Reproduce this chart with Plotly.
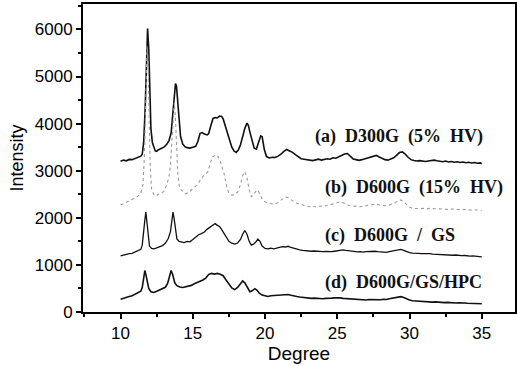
import plotly.graph_objects as go

# ---- data (degree, intensity) ----
deg_a = [10.0,10.2,10.4,10.6,10.8,11.0,11.2,11.4,11.5,11.6,11.7,11.8,11.87,11.95,12.02,12.1,12.2,12.3,12.4,12.5,
         12.6,12.8,13.0,13.2,13.35,13.5,13.6,13.7,13.8,13.87,13.95,14.05,14.15,14.3,14.45,14.6,14.8,15.0,15.2,15.35,
         15.5,15.65,15.8,16.0,16.1,16.25,16.4,16.55,16.7,16.85,17.0,17.1,17.25,17.4,17.55,17.7,17.85,18.0,18.15,18.3,
         18.45,18.6,18.75,18.85,18.95,19.1,19.25,19.4,19.55,19.7,19.8,19.95,20.1,20.3,20.5,20.7,20.9,21.1,21.3,21.5,
         21.7,21.9,22.1,22.3,22.5,22.7,22.9,23.1,23.3,23.5,23.7,23.9,24.1,24.3,24.5,24.7,24.9,25.1,25.3,25.5,
         25.7,25.9,26.1,26.3,26.5,26.7,26.9,27.1,27.3,27.5,27.7,27.9,28.1,28.3,28.5,28.7,28.9,29.1,29.3,29.5,
         29.7,29.9,30.1,30.3,30.5,30.7,30.9,31.1,31.3,31.5,31.7,31.9,32.1,32.3,32.5,32.7,32.9,33.1,33.3,33.5,
         33.7,33.9,34.1,34.3,34.5,34.7,34.9,35.0]
int_a = [3200,3225,3210,3240,3235,3265,3285,3310,3350,3600,4300,5500,6020,5600,4600,3900,3600,3480,3420,3410,
         3440,3470,3500,3560,3640,3800,4100,4500,4850,4800,4450,4000,3730,3570,3510,3490,3480,3500,3520,3620,
         3790,3810,3780,3760,3790,3960,4110,4130,4120,4160,4150,4100,3960,3800,3640,3500,3420,3390,3440,3550,
         3720,3900,4010,3960,3820,3620,3480,3460,3600,3740,3720,3450,3300,3270,3285,3280,3310,3350,3410,3450,
         3420,3390,3340,3300,3255,3245,3230,3225,3215,3230,3245,3225,3240,3255,3245,3275,3265,3295,3320,3355,
         3365,3300,3250,3235,3220,3235,3255,3265,3295,3310,3325,3290,3260,3235,3225,3245,3275,3325,3385,3400,
         3355,3285,3235,3215,3205,3215,3200,3195,3205,3215,3225,3210,3200,3190,3205,3185,3195,3180,3190,3175,
         3185,3170,3180,3165,3175,3160,3165,3150]

deg_b = [10.0,10.2,10.4,10.6,10.8,11.0,11.2,11.4,11.55,11.65,11.75,11.83,11.9,11.97,12.05,12.15,12.3,12.45,12.6,12.8,
         13.0,13.2,13.35,13.45,13.55,13.65,13.72,13.8,13.88,13.97,14.1,14.3,14.5,14.7,14.9,15.1,15.3,15.5,15.7,15.9,
         16.05,16.2,16.35,16.5,16.6,16.75,16.9,17.05,17.2,17.35,17.5,17.7,17.9,18.1,18.3,18.45,18.6,18.75,18.9,19.05,
         19.2,19.35,19.5,19.65,19.8,20.0,20.2,20.4,20.6,20.8,21.0,21.2,21.4,21.6,21.8,22.0,22.2,22.4,22.6,22.8,
         23.0,23.2,23.4,23.6,23.8,24.0,24.2,24.4,24.6,24.8,25.0,25.2,25.4,25.6,25.8,26.0,26.2,26.4,26.6,26.8,
         27.0,27.2,27.4,27.6,27.8,28.0,28.2,28.4,28.6,28.8,29.0,29.2,29.4,29.6,29.8,30.0,30.2,30.4,30.6,30.8,
         31.0,31.2,31.4,31.6,31.8,32.0,32.2,32.4,32.6,32.8,33.0,33.2,33.4,33.6,33.8,34.0,34.2,34.4,34.6,34.8,35.0]
int_b = [2270,2300,2320,2350,2390,2420,2460,2530,2700,3300,4500,5650,5300,4200,3100,2600,2500,2460,2500,2520,
         2560,2700,2870,3100,3600,4200,4450,4100,3400,2900,2620,2560,2510,2540,2600,2650,2700,2790,2880,2930,
         2980,3150,3290,3320,3280,3300,3200,3050,2900,2650,2520,2480,2490,2550,2700,2900,2980,2850,2600,2450,
         2480,2560,2590,2500,2400,2340,2310,2300,2290,2310,2350,2400,2440,2430,2380,2340,2310,2290,2270,2250,
         2240,2230,2245,2225,2250,2240,2260,2270,2285,2300,2320,2340,2320,2290,2260,2250,2240,2230,2235,2245,
         2260,2270,2280,2285,2275,2260,2250,2255,2270,2290,2320,2360,2380,2340,2280,2230,2200,2195,2205,2195,
         2200,2190,2200,2195,2190,2195,2185,2190,2180,2190,2180,2185,2175,2180,2170,2175,2165,2170,2160,2165,2160]

deg_c = [10.0,10.2,10.4,10.6,10.8,11.0,11.2,11.4,11.5,11.6,11.68,11.75,11.82,11.9,12.0,12.15,12.3,12.5,12.7,12.9,
         13.1,13.3,13.45,13.55,13.63,13.7,13.8,13.9,14.05,14.2,14.4,14.6,14.8,15.0,15.2,15.4,15.6,15.8,16.0,16.2,
         16.4,16.55,16.7,16.85,17.0,17.15,17.3,17.5,17.7,17.9,18.1,18.3,18.45,18.6,18.75,18.9,19.05,19.2,19.35,19.5,
         19.65,19.8,20.0,20.2,20.4,20.6,20.8,21.0,21.2,21.4,21.6,21.8,22.0,22.2,22.4,22.6,22.8,23.0,23.2,23.4,
         23.6,23.8,24.0,24.2,24.4,24.6,24.8,25.0,25.2,25.4,25.6,25.8,26.0,26.2,26.4,26.6,26.8,27.0,27.2,27.4,
         27.6,27.8,28.0,28.2,28.4,28.6,28.8,29.0,29.2,29.4,29.6,29.8,30.0,30.2,30.4,30.6,30.8,31.0,31.2,31.4,
         31.6,31.8,32.0,32.2,32.4,32.6,32.8,33.0,33.2,33.4,33.6,33.8,34.0,34.2,34.4,34.6,34.8,35.0]
int_c = [1190,1210,1220,1240,1245,1270,1290,1330,1420,1650,1950,2120,1900,1600,1400,1350,1340,1360,1385,1410,
         1460,1560,1700,1950,2120,2000,1700,1550,1500,1490,1475,1500,1490,1540,1600,1640,1665,1700,1760,1810,
         1850,1880,1840,1815,1750,1680,1600,1500,1460,1440,1465,1540,1650,1730,1650,1500,1420,1440,1480,1550,
         1500,1400,1350,1340,1355,1340,1355,1370,1390,1380,1395,1370,1350,1335,1320,1310,1300,1305,1290,1295,
         1285,1290,1280,1285,1275,1280,1290,1300,1310,1320,1310,1300,1290,1280,1275,1280,1270,1280,1285,1280,
         1290,1280,1270,1275,1265,1280,1290,1300,1320,1330,1310,1280,1260,1250,1255,1245,1240,1245,1235,1240,
         1230,1225,1230,1215,1220,1210,1215,1205,1210,1200,1195,1200,1190,1185,1190,1180,1175,1170]

deg_d = [10.0,10.2,10.4,10.6,10.8,11.0,11.2,11.4,11.5,11.6,11.68,11.75,11.85,11.95,12.1,12.3,12.5,12.7,12.9,13.1,
         13.25,13.38,13.5,13.6,13.75,13.9,14.1,14.3,14.5,14.7,14.9,15.1,15.3,15.5,15.7,15.9,16.1,16.3,16.5,16.7,
         16.9,17.1,17.3,17.5,17.7,17.9,18.1,18.3,18.45,18.6,18.8,18.95,19.1,19.3,19.45,19.6,19.8,20.0,20.2,20.4,
         20.6,20.8,21.0,21.2,21.4,21.6,21.8,22.0,22.2,22.4,22.6,22.8,23.0,23.2,23.4,23.6,23.8,24.0,24.2,24.4,
         24.6,24.8,25.0,25.2,25.4,25.6,25.8,26.0,26.2,26.4,26.6,26.8,27.0,27.2,27.4,27.6,27.8,28.0,28.2,28.4,
         28.6,28.8,29.0,29.2,29.4,29.6,29.8,30.0,30.2,30.4,30.6,30.8,31.0,31.2,31.4,31.6,31.8,32.0,32.2,32.4,
         32.6,32.8,33.0,33.2,33.4,33.6,33.8,34.0,34.2,34.4,34.6,34.8,35.0]
int_d = [270,295,305,330,345,375,400,440,520,700,880,800,600,500,430,415,440,465,490,525,
         600,750,880,800,620,560,530,520,530,540,565,600,635,655,680,720,800,820,805,820,
         800,770,680,580,510,475,520,600,660,620,500,430,450,495,460,400,360,345,330,345,
         350,360,350,365,360,370,355,350,330,320,310,300,305,290,295,285,290,280,290,285,
         295,300,305,300,290,285,275,280,270,265,270,260,255,265,260,270,265,260,270,265,
         280,290,305,315,325,310,280,255,240,235,230,220,225,215,220,210,215,205,210,200,
         205,195,200,190,195,185,190,185,180,185,175,180,175]

labels = ["(a)\u00a0\u00a0D300G\u00a0\u00a0(5%\u00a0\u00a0HV)",
          "(b)\u00a0\u00a0D600G\u00a0\u00a0(15%\u00a0\u00a0HV)",
          "(c)\u00a0\u00a0D600G\u00a0\u00a0/\u00a0\u00a0GS",
          "(d)\u00a0\u00a0D600G/GS/HPC"]
label_x = [23.3, 24.0, 24.0, 24.0]
label_y = [3730, 2650, 1630, 630]

fig = go.Figure()
fig.add_trace(go.Scatter(x=deg_a, y=int_a, mode="lines", line=dict(color="#111111", width=1.6), name="a"))
fig.add_trace(go.Scatter(x=deg_b, y=int_b, mode="lines", line=dict(color="#9a9a9a", width=1.1, dash="dot"), name="b"))
fig.add_trace(go.Scatter(x=deg_c, y=int_c, mode="lines", line=dict(color="#111111", width=1.3), name="c"))
fig.add_trace(go.Scatter(x=deg_d, y=int_d, mode="lines", line=dict(color="#111111", width=1.6), name="d"))

for t, xv, yv in zip(labels, label_x, label_y):
    fig.add_annotation(x=xv, y=yv, text="<b>" + t + "</b>", showarrow=False, xanchor="left", yanchor="middle",
                       font=dict(family="Liberation Serif", size=18, color="#111111"))

axis_common = dict(showgrid=False, zeroline=False, showline=True, linecolor="black", linewidth=2,
                   mirror=True, ticks="outside", ticklen=5, tickwidth=1.5, tickcolor="black",
                   automargin=False,
                   tickfont=dict(family="Liberation Sans", size=17, color="black"))

fig.update_layout(
    width=517, height=366,
    margin=dict(l=83, r=2, t=4, b=54),
    paper_bgcolor="white", plot_bgcolor="white",
    showlegend=False,
    xaxis=dict(range=[7.4, 37.3], tick0=10, dtick=5, ticklabelstandoff=0,
               minor=dict(ticks="outside", ticklen=3, tickcolor="black", dtick=2.5, tick0=10),
               title=dict(text="Degree", standoff=4, font=dict(family="Liberation Sans", size=19, color="black")),
               **axis_common),
    yaxis=dict(range=[0, 6540], tick0=0, dtick=1000,
               minor=dict(ticks="outside", ticklen=3, tickcolor="black", dtick=500, tick0=0),
               title=dict(text="Intensity", standoff=6, font=dict(family="Liberation Sans", size=18, color="black")),
               **axis_common),
)

fig.write_html("out.html", config={"displayModeBar": False},
               post_script="document.body.style.margin='0';document.body.style.padding='0';")
